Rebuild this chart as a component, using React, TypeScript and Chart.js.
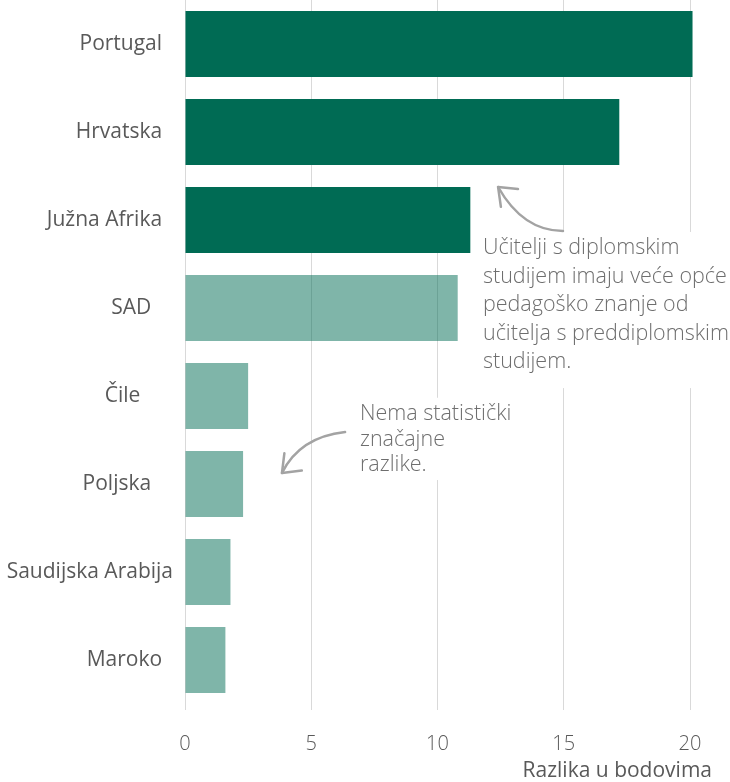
import { useEffect, useRef } from "react";
import { Chart, registerables } from "chart.js";

Chart.register(...registerables);

// ---- data ----
const categories = [
  "Portugal  ",
  "Hrvatska  ",
  "Južna Afrika  ",
  "SAD    ",
  "Čile      ",
  "Poljska    ",
  "Saudijska Arabija",
  "Maroko  ",
];
const values = [20.1, 17.2, 11.3, 10.8, 2.5, 2.3, 1.8, 1.6];
const significant = [true, true, true, false, false, false, false, false];
const xTickValues = [0, 5, 10, 15, 20];
const axisTitle = "Razlika u bodovima";
const note1Lines = [
  "Učitelji s diplomskim",
  "studijem imaju veće opće",
  "pedagoško znanje od",
  "učitelja s preddiplomskim",
  "studijem.",
];
const note2Lines = ["Nema statistički", "značajne", "razlike."];

const DARK = "rgb(0,107,84)";
const LIGHT = "rgba(0,107,84,0.5)";
const GRID = "#d9d9d9";
const LABEL = "#595959";
const NOTE = "#6e6e6e";
const ARROW = "#a3a3a3";

function drawArrow(
  ctx: CanvasRenderingContext2D,
  p0: number[],
  c: number[],
  tip: number[],
  headAngleDeg: number
) {
  ctx.beginPath();
  ctx.moveTo(p0[0], p0[1]);
  ctx.quadraticCurveTo(c[0], c[1], tip[0], tip[1]);
  ctx.stroke();
  const a = (headAngleDeg * Math.PI) / 180;
  const spread = (38 * Math.PI) / 180;
  const len = 20;
  ctx.beginPath();
  ctx.moveTo(tip[0] + len * Math.cos(a - spread), tip[1] + len * Math.sin(a - spread));
  ctx.lineTo(tip[0], tip[1]);
  ctx.lineTo(tip[0] + len * Math.cos(a + spread), tip[1] + len * Math.sin(a + spread));
  ctx.stroke();
}

const notesPlugin = {
  id: "notes",
  afterDatasetsDraw(chart: any) {
    const ctx: CanvasRenderingContext2D = chart.ctx;
    const xs = chart.scales.x;
    const ys = chart.scales.y;
    const X = (v: number) => xs.getPixelForValue(v);
    const Y = (i: number) => ys.getPixelForValue(i);
    ctx.save();
    // white backgrounds behind the notes
    ctx.fillStyle = "#ffffff";
    ctx.fillRect(X(11.6), Y(2.136), chart.width - X(11.6), Y(3.91) - Y(2.136));
    ctx.fillRect(X(6.73), Y(4.02), X(13.27) - X(6.73), Y(4.955) - Y(4.02));
    // notes text
    ctx.font = '300 21.5px "Open Sans"';
    ctx.fillStyle = NOTE;
    ctx.textAlign = "left";
    ctx.textBaseline = "middle";
    note1Lines.forEach((l, k) => ctx.fillText(l, X(11.8), Y(2.318) + k * 28.5));
    note2Lines.forEach((l, k) => ctx.fillText(l, X(6.93), Y(4.205) + k * 25.5));
    // arrows
    ctx.strokeStyle = ARROW;
    ctx.lineWidth = 2.5;
    ctx.lineCap = "round";
    ctx.lineJoin = "round";
    drawArrow(ctx, [X(14.97), Y(2.125)], [X(13.39), Y(2.125)], [X(12.4), Y(1.625)], 44);
    drawArrow(ctx, [X(6.34), Y(4.41)], [X(4.55), Y(4.466)], [X(3.84), Y(4.875)], -45);
    // axis title
    ctx.font = '400 21px "Open Sans"';
    ctx.fillStyle = LABEL;
    ctx.textAlign = "right";
    ctx.textBaseline = "middle";
    ctx.fillText(axisTitle, xs.right + 22, chart.height - 11);
    ctx.restore();
  },
};

export default function App() {
  const ref = useRef<HTMLCanvasElement | null>(null);
  useEffect(() => {
    if (!ref.current) return;
    const chart = new Chart(ref.current, {
      type: "bar",
      data: {
        labels: categories,
        datasets: [
          {
            data: values,
            backgroundColor: significant.map((s) => (s ? DARK : LIGHT)),
            borderWidth: 0,
            barPercentage: 0.75,
            categoryPercentage: 1,
            clip: false as any,
          },
        ],
      },
      options: {
        indexAxis: "y",
        animation: false,
        responsive: false,
        events: [],
        layout: { padding: { top: 0, right: 40, bottom: 0, left: 0 } },
        plugins: {
          legend: { display: false },
          tooltip: { enabled: false },
        },
        scales: {
          x: {
            type: "linear",
            min: 0,
            max: 20,
            afterBuildTicks: (scale: any) => {
              scale.ticks = xTickValues.map((v) => ({ value: v }));
            },
            afterFit: (scale: any) => {
              scale.height = 78;
              scale.paddingLeft = 0;
              scale.paddingRight = 0;
            },
            grid: {
              color: GRID,
              lineWidth: 1,
              drawTicks: true,
              tickLength: 6,
              tickColor: GRID,
            },
            border: { display: false },
            ticks: {
              color: LABEL,
              font: { family: "Open Sans", size: 20, weight: 300 as any },
              padding: 22,
              maxRotation: 0,
              autoSkip: false,
            },
          },
          y: {
            type: "category",
            afterFit: (scale: any) => {
              scale.width = 185;
              scale.paddingTop = 0;
              scale.paddingBottom = 0;
            },
            grid: { display: false, drawTicks: false },
            border: { display: false },
            ticks: {
              color: LABEL,
              font: { family: "Open Sans", size: 21, weight: 400 as any },
              padding: 12,
              autoSkip: false,
            },
          },
        },
      },
      plugins: [notesPlugin],
    });
    return () => chart.destroy();
  }, []);
  return (
    <canvas
      ref={ref}
      width={730}
      height={782}
      style={{ position: "fixed", left: 0, top: 0, width: 730, height: 782, display: "block" }}
    />
  );
}
